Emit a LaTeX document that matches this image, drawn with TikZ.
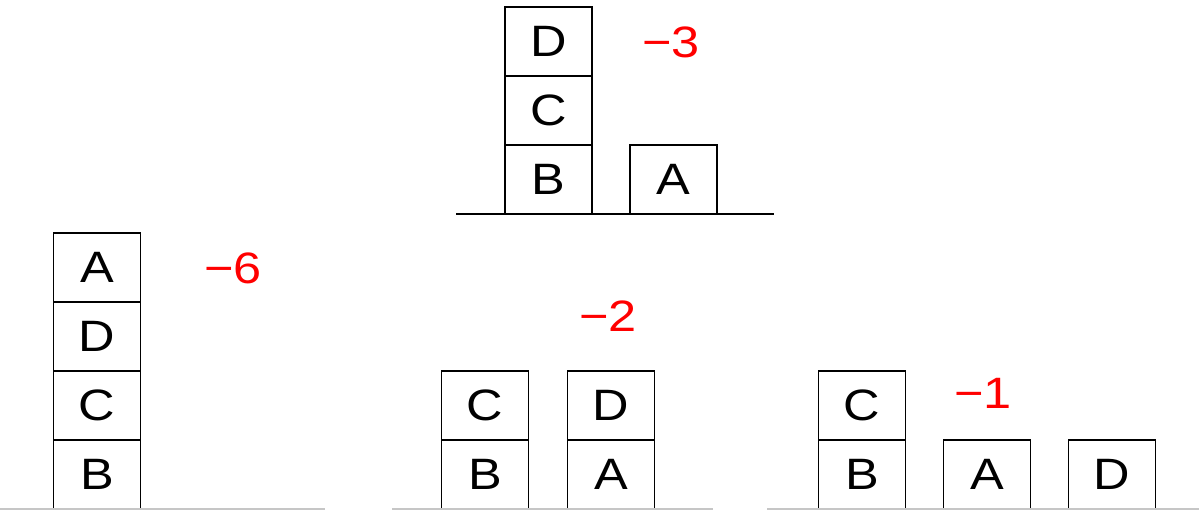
\documentclass[tikz,border=0pt]{standalone}
\usepackage{fontspec}
\setmainfont{Liberation Sans}[FakeStretch=1.15]
\usetikzlibrary{positioning}

\begin{document}
\begin{tikzpicture}[
        x=0.02cm, y=-0.02cm,
        font=\fontsize{25}{28}\selectfont,
        block/.style={draw, line width=0.7pt, minimum width=1.74cm, minimum height=1.38cm, inner sep=0pt, outer sep=0pt},
        score/.style={text=red, inner sep=0pt},
        ground/.style={line width=1pt},
        lowground/.style={line width=1pt, draw=gray!45}
      ]
      \useasboundingbox (0,0) rectangle (1199,510);

      % top state
      \node[block] (tB) at (548.5,179.5) {B};
      \node[block, above=0pt of tB] (tC) {C};
      \node[block, above=0pt of tC] (tD) {D};
      \node[block] (tA) at (673.5,179.5) {A};
      \node[score] (tS) at (671,42) {−3};
      \draw[ground] (456,214) -- (774,214);

      % left state
      \node[block] (lB) at (97,474.5) {B};
      \node[block, above=0pt of lB] (lC) {C};
      \node[block, above=0pt of lC] (lD) {D};
      \node[block, above=0pt of lD] (lA) {A};
      \node[score] (lS) at (233,268) {−6};
      \draw[lowground] (0,509) -- (325,509);

      % middle state
      \node[block] (mB) at (485,474.5) {B};
      \node[block, above=0pt of mB] (mC) {C};
      \node[block] (mA) at (611,474.5) {A};
      \node[block, above=0pt of mA] (mD) {D};
      \node[score] (mS) at (608,316) {−2};
      \draw[lowground] (392,509) -- (713,509);

      % right state
      \node[block] (rB) at (862,474.5) {B};
      \node[block, above=0pt of rB] (rC) {C};
      \node[block] (rA) at (987,474.5) {A};
      \node[block] (rD) at (1112,474.5) {D};
      \node[score] (rS) at (983,393) {−1};
      \draw[lowground] (767,509) -- (1199,509);
    \end{tikzpicture}
\end{document}
